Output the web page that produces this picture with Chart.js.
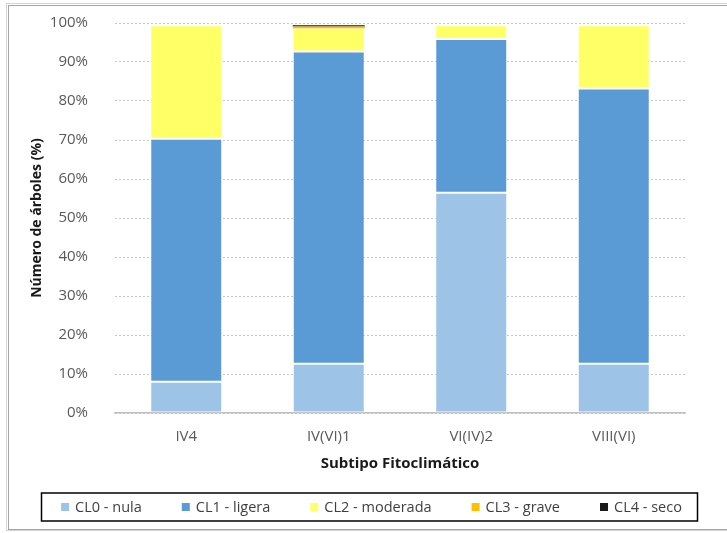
<!DOCTYPE html>
<html>
<head>
<meta charset="utf-8">
<script src="https://cdn.jsdelivr.net/npm/chart.js@4/dist/chart.umd.min.js"></script>
<style>
  html, body { margin: 0; padding: 0; background: #fff; overflow: hidden; }
  #wrap { width: 727px; height: 533px; }
</style>
</head>
<body>
<div id="wrap"><canvas id="my-chart" width="727" height="533"></canvas></div>
<script>
const categories = ["IV4", "IV(VI)1", "VI(IV)2", "VIII(VI)"];
const cl0 = [8.0, 12.6, 56.5, 12.6];
const cl1 = [62.3, 80.1, 39.4, 70.6];
const cl2 = [29.1, 5.9, 3.5, 16.2];
const cl3 = [0, 0.5, 0, 0];
const cl4 = [0, 0.3, 0, 0];
const yTicks = [0, 10, 20, 30, 40, 50, 60, 70, 80, 90, 100];

const FONT = "'Open Sans', sans-serif";

// frame around the whole chart + boxed legend drawn under the x axis
const frameAndLegend = {
  id: "frameAndLegend",
  afterDraw(chart) {
    const ctx = chart.ctx;
    ctx.save();
    ctx.strokeStyle = "#d4d4d4";
    ctx.lineWidth = 1;
    ctx.strokeRect(6.5, 3.5, 740, 527);
    ctx.strokeStyle = "#a6a6a6";
    ctx.strokeRect(8.5, 5.5, 740, 524);

    const boxL = 41.5, boxR = 697.5, cy = 507;
    ctx.strokeStyle = "#000";
    ctx.lineWidth = 1.5;
    ctx.strokeRect(boxL, cy - 14, boxR - boxL, 28);

    ctx.font = "14.5px " + FONT;
    ctx.textBaseline = "middle";
    const gap = 40, sq = 8, tgap = 6;
    const sets = chart.data.datasets;
    const widths = sets.map(d => sq + tgap + ctx.measureText(d.label).width);
    const total = widths.reduce((a, b) => a + b, 0) + gap * (sets.length - 1);
    let x = (boxL + boxR) / 2 + 2 - total / 2;
    sets.forEach((d, i) => {
      ctx.fillStyle = d.backgroundColor;
      ctx.fillRect(x, cy - sq / 2, sq, sq);
      ctx.fillStyle = "#404040";
      ctx.fillText(d.label, x + sq + tgap, cy + 1);
      x += widths[i] + gap;
    });
    ctx.restore();
  }
};

const data = {
  labels: categories,
  datasets: [
    { label: "CL0 - nula", data: cl0, backgroundColor: "#9dc3e6", borderWidth: 1 },
    { label: "CL1 - ligera", data: cl1, backgroundColor: "#5b9bd5", borderWidth: 1 },
    { label: "CL2 - moderada", data: cl2, backgroundColor: "#ffff66", borderWidth: 1 },
    { label: "CL3 - grave", data: cl3, backgroundColor: "#ffc000", borderWidth: 0 },
    { label: "CL4 - seco", data: cl4, backgroundColor: "#1a1a1a", borderWidth: 0 },
  ].map(d => Object.assign(d, {
    borderColor: "rgba(255,255,255,0.55)",
    borderSkipped: false,
    categoryPercentage: 1,
    barPercentage: 0.505,
  })),
};

const config = {
  type: "bar",
  data: data,
  options: {
    responsive: false,
    animation: false,
    layout: {
      padding: { left: 8, right: 42, top: 23, bottom: 48 },
    },
    plugins: {
      legend: { display: false },
      tooltip: { enabled: false },
    },
    scales: {
      x: {
        stacked: true,
        afterFit(scale) { scale.height = 72; },
        grid: { display: false, drawTicks: false },
        border: { display: true, color: "#bfbfbf", width: 1.5 },
        ticks: {
          padding: 15,
          color: "#595959",
          font: { family: FONT, size: 15 },
        },
        title: {
          display: true,
          text: "Subtipo Fitoclimático",
          color: "#1a1a1a",
          font: { family: FONT, size: 15, weight: "bold" },
          padding: { top: 0, bottom: 12 },
        },
      },
      y: {
        stacked: true,
        min: 0,
        max: 100,
        afterFit(scale) { scale.width = 107; },
        afterBuildTicks(scale) { scale.ticks = yTicks.map(v => ({ value: v })); },
        grid: { color: "#c8c8c8", drawTicks: true, tickLength: 27, tickColor: "rgba(0,0,0,0)" },
        border: { display: false, dash: [2, 2] },
        ticks: {
          padding: 0,
          color: "#595959",
          font: { family: FONT, size: 15 },
          callback: v => v + "%",
        },
        title: {
          display: true,
          text: "Número de árboles (%)",
          color: "#1a1a1a",
          font: { family: FONT, size: 14, weight: "bold" },
          padding: { top: 21, bottom: 0 },
        },
      },
    },
  },
  plugins: [frameAndLegend],
};

const myChart = new Chart(document.getElementById("my-chart"), config);
</script>
</body>
</html>
